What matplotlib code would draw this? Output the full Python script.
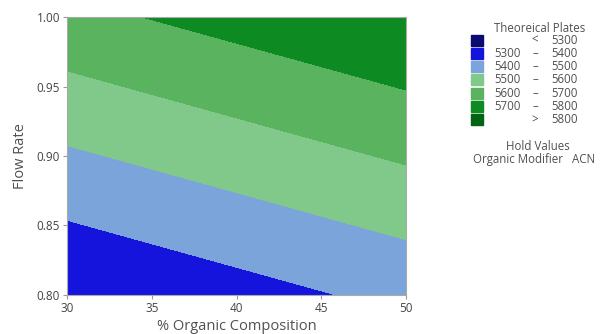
import numpy as np
import matplotlib.pyplot as plt
from matplotlib.patches import Rectangle

plt.rcParams["font.family"] = ["Open Sans", "DejaVu Sans"]

# Response surface: plate count at the four corners
ORGANIC = [30, 50]              # % organic composition
FLOW = [0.80, 1.00]             # flow rate
PLATES = [[5300, 5426],         # flow 0.80
          [5672, 5798]]         # flow 1.00

LEVELS = [5200, 5300, 5400, 5500, 5600, 5700, 5800, 5900]
COLORS = ["#0b0b72", "#1414dc", "#7ba4da", "#80c98a",
          "#5ab35f", "#0e8a22", "#006414"]
LEGEND_LABELS = [("", "<", "5300"), ("5300", "–", "5400"),
                 ("5400", "–", "5500"), ("5500", "–", "5600"),
                 ("5600", "–", "5700"), ("5700", "–", "5800"),
                 ("", ">", "5800")]

XTICKS = [30, 35, 40, 45, 50]
YTICKS = [0.80, 0.85, 0.90, 0.95, 1.00]

TEXT_GRAY = "#505050"

fig = plt.figure(figsize=(6.05, 3.34), dpi=100)
ax = fig.add_axes([0.111, 0.117, 0.560, 0.832])

X, Y = np.meshgrid(ORGANIC, FLOW)
ax.contourf(X, Y, np.array(PLATES), levels=LEVELS, colors=COLORS)

ax.set_xlim(30, 50)
ax.set_ylim(0.80, 1.00)
ax.set_xticks(XTICKS)
ax.set_yticks(YTICKS)
ax.set_yticklabels([f"{v:.2f}" for v in YTICKS])
ax.tick_params(labelsize=8.5, colors="#999999", labelcolor="#444444",
               length=3, width=0.8, pad=2)
for s in ax.spines.values():
    s.set_color("#aaaaaa")
    s.set_linewidth(0.8)

ax.set_xlabel("% Organic Composition", fontsize=10.5, color=TEXT_GRAY,
              labelpad=3)
ax.set_ylabel("Flow Rate", fontsize=10.5, color=TEXT_GRAY, labelpad=6)

# ── Legend (drawn by hand to match the layout) ────────────────────────────
W, H = 605, 334


def fx(px):
    return px / W


def fy(py):
    return 1 - py / H


LEG_FS = 8.3

fig.text(fx(540), fy(28), "Theoreical Plates", fontsize=LEG_FS,
         color=TEXT_GRAY, ha="center", va="center")
for i, (lo, sym, hi) in enumerate(LEGEND_LABELS):
    yc = 40 + i * 13.3
    fig.patches.append(Rectangle((fx(471), fy(yc + 5.5)), fx(12), 11 / H,
                                 transform=fig.transFigure,
                                 color=COLORS[i]))
    if lo:
        fig.text(fx(494), fy(yc), lo, fontsize=LEG_FS, color=TEXT_GRAY,
                 va="center")
    fig.text(fx(535), fy(yc), sym, fontsize=LEG_FS, color=TEXT_GRAY,
             ha="center", va="center")
    fig.text(fx(578), fy(yc), hi, fontsize=LEG_FS, color=TEXT_GRAY,
             ha="right", va="center")

fig.text(fx(538), fy(147), "Hold Values", fontsize=LEG_FS, color=TEXT_GRAY,
         ha="center", va="center")
fig.text(fx(473), fy(160), "Organic Modifier   ACN", fontsize=LEG_FS,
         color=TEXT_GRAY, va="center")

fig.savefig("out.png", dpi=100)
